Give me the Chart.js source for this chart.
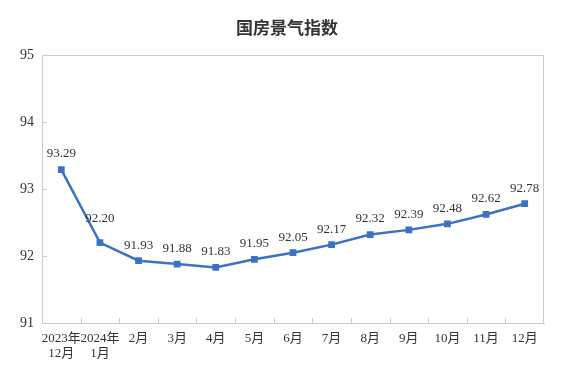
<!DOCTYPE html>
<html>
<head>
<meta charset="utf-8">
<script src="https://cdn.jsdelivr.net/npm/chart.js@4"></script>
<style>
  body { margin: 0; background: #fff; }
</style>
</head>
<body>
<canvas id="myChart" width="567" height="384"></canvas>
<script>
// 数据
var chartTitle = '国房景气指数';
var months = [['2023年', '12月'], ['2024年', '1月'], '2月', '3月', '4月', '5月', '6月', '7月', '8月', '9月', '10月', '11月', '12月'];
var indexValues = [93.29, 92.20, 91.93, 91.88, 91.83, 91.95, 92.05, 92.17, 92.32, 92.39, 92.48, 92.62, 92.78];
var yTicks = [91, 92, 93, 94, 95];

var serif = "'Liberation Serif', 'Times New Roman', 'Noto Sans CJK SC', serif";

// 标题、边框、内向刻度线和数值标签
var decorations = {
  id: 'decorations',
  afterDatasetsDraw: function (chart) {
    var c = chart.ctx, a = chart.chartArea;
    var xs = chart.scales.x, ys = chart.scales.y;
    c.save();
    c.fillStyle = '#333333';
    c.font = "bold 17px 'Noto Sans CJK SC', sans-serif";
    c.textAlign = 'center';
    c.textBaseline = 'middle';
    c.fillText(chartTitle, 287, 28);

    c.strokeStyle = '#cccccc';
    c.lineWidth = 1;
    c.strokeRect(a.left + 0.5, a.top + 0.5, a.right - a.left - 1, a.bottom - a.top);
    for (var i = 0; i < months.length - 1; i++) {
      var x = Math.round((xs.getPixelForValue(i) + xs.getPixelForValue(i + 1)) / 2) + 0.5;
      c.beginPath();
      c.moveTo(x, a.bottom);
      c.lineTo(x, a.bottom - 5);
      c.stroke();
    }
    yTicks.forEach(function (v) {
      var y = Math.round(ys.getPixelForValue(v)) + 0.5;
      c.beginPath();
      c.moveTo(a.left, y);
      c.lineTo(a.left + 5, y);
      c.stroke();
    });
    var meta = chart.getDatasetMeta(0);
    c.font = '13px ' + serif;
    c.textBaseline = 'bottom';
    meta.data.forEach(function (pt, i) {
      var off = i === 1 ? 18 : 9;
      c.fillText(indexValues[i].toFixed(2), pt.x, pt.y - off);
    });
    c.restore();
  }
};

var ctx = document.getElementById('myChart').getContext('2d');
var myChart = new Chart(ctx, {
  type: 'line',
  data: {
    labels: months,
    datasets: [{
      data: indexValues,
      borderColor: '#3a72c4',
      backgroundColor: '#3a72c4',
      borderWidth: 2.5,
      pointStyle: 'rect',
      pointRadius: 3,
      tension: 0
    }]
  },
  options: {
    responsive: false,
    animation: false,
    layout: { padding: { left: 0, right: 23, top: 55, bottom: 0 } },
    plugins: {
      legend: { display: false },
      tooltip: { enabled: false },
      title: { display: false }
    },
    scales: {
      x: {
        offset: true,
        grid: { offset: true, drawOnChartArea: false, drawTicks: false },
        border: { color: '#cccccc' },
        ticks: {
          color: '#333333',
          font: { size: 13, family: serif, lineHeight: 1.15 },
          padding: 8,
          maxRotation: 0,
          autoSkip: false
        },
        afterFit: function (s) { s.height = 61; }
      },
      y: {
        min: 91,
        max: 95,
        afterBuildTicks: function (s) { s.ticks = yTicks.map(function (v) { return { value: v }; }); },
        grid: { drawOnChartArea: false, drawTicks: false },
        border: { color: '#cccccc' },
        ticks: {
          color: '#333333',
          font: { size: 14, family: serif },
          padding: 8
        },
        afterFit: function (s) { s.width = 42; }
      }
    }
  },
  plugins: [decorations]
});
</script>
</body>
</html>
